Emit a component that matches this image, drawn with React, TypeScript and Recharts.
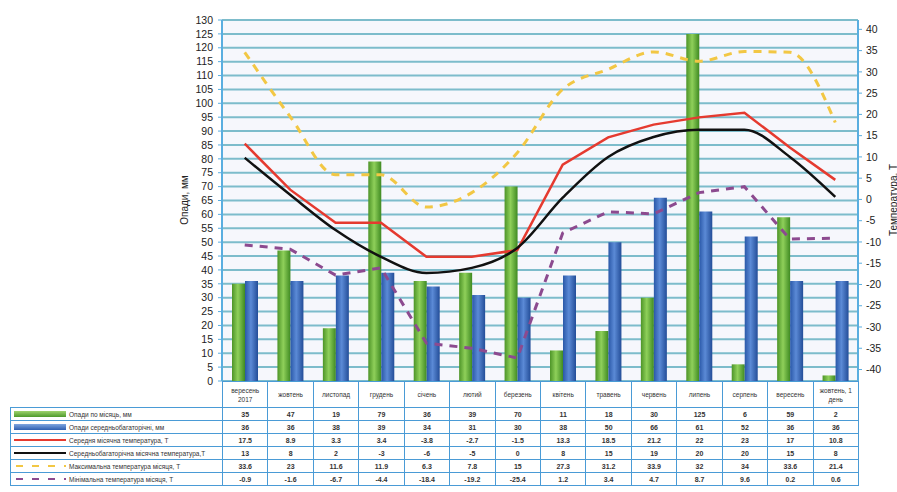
import React from 'react';
import { ComposedChart, Bar, Line, XAxis, YAxis, CartesianGrid } from 'recharts';

const months = [
  'вересень 2017', 'жовтень', 'листопад', 'грудень', 'січень', 'лютий', 'березень',
  'квітень', 'травень', 'червень', 'липень', 'серпень', 'вересень', 'жовтень, 1 день',
];

// precipitation, mm
const precip = [35, 47, 19, 79, 36, 39, 70, 11, 18, 30, 125, 6, 59, 2];
const precipNorm = [36, 36, 38, 39, 34, 31, 30, 38, 50, 66, 61, 52, 36, 36];

// temperature lines as they sit on the right axis of the picture
const avgTempLine = [13.1, 2.3, -5.5, -5.5, -13.5, -13.5, -11.9, 8.2, 14.6, 17.6, 19.3, 20.4, 12.2, 4.6];
const normTempLine = [9.8, 1.1, -7.2, -13.5, -17.3, -16.1, -11.4, 0.4, 10.0, 14.7, 16.4, 16.4, 10.0, 0.6];
const maxTempLine = [34.6, 19.5, 5.8, 5.8, -1.8, 1.6, 11.0, 25.9, 30.6, 34.7, 32.5, 34.8, 34.6, 18.1];
const minTempLine = [-10.7, -11.7, -17.8, -16.1, -33.8, -35.0, -37.3, -7.9, -2.9, -3.4, 1.6, 3.0, -9.3, -9.1];

// values printed in the data table
const avgTempTable = ['17.5', '8.9', '3.3', '3.4', '-3.8', '-2.7', '-1.5', '13.3', '18.5', '21.2', '22', '23', '17', '10.8'];
const normTempTable = ['13', '8', '2', '-3', '-6', '-5', '0', '8', '15', '19', '20', '20', '15', '8'];
const maxTempTable = ['33.6', '23', '11.6', '11.9', '6.3', '7.8', '15', '27.3', '31.2', '33.9', '32', '34', '33.6', '21.4'];
const minTempTable = ['-0.9', '-1.6', '-6.7', '-4.4', '-18.4', '-19.2', '-25.4', '1.2', '3.4', '4.7', '8.7', '9.6', '0.2', '0.6'];

const leftTicks = [0, 5, 10, 15, 20, 25, 30, 35, 40, 45, 50, 55, 60, 65, 70, 75, 80, 85, 90, 95, 100, 105, 110, 115, 120, 125, 130];
const rightTicks = [-40, -35, -30, -25, -20, -15, -10, -5, 0, 5, 10, 15, 20, 25, 30, 35, 40];

const data = months.map((m, i) => ({
  month: m,
  precip: precip[i],
  precipNorm: precipNorm[i],
  avg: avgTempLine[i],
  norm: normTempLine[i],
  max: maxTempLine[i],
  min: minTempLine[i],
}));

const PLOT_L = 222;
const PLOT_R = 858;
const TABLE_TOP = 381;
const HEAD_H = 26;
const ROW_H = 13;
const colW = (PLOT_R - PLOT_L) / months.length;
const FONT = '"Liberation Sans", Arial, sans-serif';
const BORDER = '#4a9bd6';

const rows = [
  { label: 'Опади по місяць, мм', key: 'bar', color: 'url(#gGreen)', values: precip.map(String) },
  { label: 'Опади середньобагаторічні, мм', key: 'bar', color: 'url(#gBlue)', values: precipNorm.map(String) },
  { label: 'Середня місячна температура, Т', key: 'line', color: '#e53a2f', values: avgTempTable },
  { label: 'Середньобагаторічна місячна температура,Т', key: 'line', color: '#111111', values: normTempTable },
  { label: 'Максимальна температура місяця, Т', key: 'dash', color: '#f2c744', values: maxTempTable },
  { label: 'Мінімальна температура місяця, Т', key: 'dash', color: '#8c4a8f', values: minTempTable },
];

function Swatch({ kind, color }: { kind: string; color: string }) {
  return (
    <svg width={52} height={8} style={{ position: 'absolute', left: 3, top: 2 }}>
      <defs>
        <linearGradient id="sgGreen" x1="0" y1="0" x2="0" y2="1">
          <stop offset="0" stopColor="#9fd36e" />
          <stop offset="1" stopColor="#4e9a2c" />
        </linearGradient>
        <linearGradient id="sgBlue" x1="0" y1="0" x2="0" y2="1">
          <stop offset="0" stopColor="#7fa6e0" />
          <stop offset="1" stopColor="#2f5fb0" />
        </linearGradient>
      </defs>
      {kind === 'bar' && (
        <rect x={0} y={1} width={52} height={6} fill={color === 'url(#gGreen)' ? 'url(#sgGreen)' : 'url(#sgBlue)'} />
      )}
      {kind === 'line' && <line x1={0} x2={52} y1={4} y2={4} stroke={color} strokeWidth={2} />}
      {kind === 'dash' && <line x1={2} x2={52} y1={4} y2={4} stroke={color} strokeWidth={2} strokeDasharray="7 9" />}
    </svg>
  );
}

function DataTable() {
  const cell: React.CSSProperties = {
    position: 'absolute',
    boxSizing: 'border-box',
    border: `1px solid ${BORDER}`,
    fontFamily: FONT,
    color: '#333',
    display: 'flex',
    alignItems: 'center',
    justifyContent: 'center',
    textAlign: 'center',
  };
  return (
    <div style={{ position: 'absolute', left: 0, top: TABLE_TOP, width: 897, height: 111 }}>
      {months.map((m, i) => (
        <div
          key={'h' + i}
          style={{ ...cell, left: PLOT_L + i * colW, top: 0, width: colW + 1, height: HEAD_H + 1, fontSize: 6.5, lineHeight: '9px', padding: '0 2px' }}
        >
          {m}
        </div>
      ))}
      {rows.map((r, ri) => (
        <React.Fragment key={'r' + ri}>
          <div
            style={{ ...cell, left: 10, top: HEAD_H + ri * ROW_H, width: PLOT_L - 10 + 1, height: ROW_H + 1, justifyContent: 'flex-start', fontSize: 6.5, paddingLeft: 58, whiteSpace: 'nowrap' }}
          >
            <Swatch kind={r.key} color={r.color} />
            {r.label}
          </div>
          {r.values.map((v, i) => (
            <div
              key={'c' + ri + '-' + i}
              style={{ ...cell, left: PLOT_L + i * colW, top: HEAD_H + ri * ROW_H, width: colW + 1, height: ROW_H + 1, fontSize: 7, fontWeight: 700 }}
            >
              {v}
            </div>
          ))}
        </React.Fragment>
      ))}
    </div>
  );
}

export default function App() {
  const tick = { fill: '#222', fontSize: 10.5, fontFamily: FONT };
  return (
    <div style={{ position: 'absolute', left: 0, top: 0, width: 897, height: 492, background: '#fff', overflow: 'hidden' }}>
      <ComposedChart
        width={897}
        height={392}
        data={data}
        margin={{ top: 20, right: 0, bottom: 11, left: 182 }}
        barGap={0}
        barSize={13}
      >
        <defs>
          <linearGradient id="gGreen" x1="0" y1="0" x2="1" y2="0">
            <stop offset="0" stopColor="#4d9428" />
            <stop offset="0.45" stopColor="#8fd05a" />
            <stop offset="1" stopColor="#3f8a22" />
          </linearGradient>
          <linearGradient id="gBlue" x1="0" y1="0" x2="1" y2="0">
            <stop offset="0" stopColor="#2a58a8" />
            <stop offset="0.45" stopColor="#5b8ad6" />
            <stop offset="1" stopColor="#234d98" />
          </linearGradient>
        </defs>
        <CartesianGrid yAxisId="left" vertical={false} stroke="#7dbccb" strokeWidth={2} fill="#f6f7fc" />
        <XAxis dataKey="month" hide />
        <YAxis
          yAxisId="left"
          width={40}
          domain={[0, 130]}
          ticks={leftTicks}
          interval={0}
          tick={tick}
          tickSize={4}
          tickMargin={5}
          axisLine={{ stroke: '#5aaee0', strokeWidth: 2 }}
          tickLine={{ stroke: '#5aaee0' }}
        />
        <YAxis
          yAxisId="right"
          orientation="right"
          width={39}
          domain={[-42.7, 42.2]}
          ticks={rightTicks}
          interval={0}
          tick={{ ...tick, textAnchor: 'start' }}
          tickSize={4}
          tickMargin={4}
          axisLine={{ stroke: '#5aaee0', strokeWidth: 2 }}
          tickLine={{ stroke: '#5aaee0' }}
        />
        <Bar yAxisId="left" dataKey="precip" fill="url(#gGreen)" isAnimationActive={false} />
        <Bar yAxisId="left" dataKey="precipNorm" fill="url(#gBlue)" isAnimationActive={false} />
        <Line yAxisId="right" type="monotone" dataKey="max" stroke="#f2c744" strokeWidth={3} strokeDasharray="8 7" dot={false} isAnimationActive={false} />
        <Line yAxisId="right" type="linear" dataKey="min" stroke="#8c4a8f" strokeWidth={3} strokeDasharray="8 7" dot={false} isAnimationActive={false} />
        <Line yAxisId="right" type="linear" dataKey="avg" stroke="#e53a2f" strokeWidth={2.5} dot={false} isAnimationActive={false} />
        <Line yAxisId="right" type="monotone" dataKey="norm" stroke="#111111" strokeWidth={2.5} dot={false} isAnimationActive={false} />
      </ComposedChart>
      <div
        style={{ position: 'absolute', left: 184, top: 200, transform: 'translate(-50%, -50%) rotate(-90deg)', fontFamily: FONT, fontSize: 10, color: '#222', whiteSpace: 'nowrap' }}
      >
        Опади, мм
      </div>
      <div
        style={{ position: 'absolute', left: 893, top: 200, transform: 'translate(-50%, -50%) rotate(-90deg)', fontFamily: FONT, fontSize: 10, color: '#222', whiteSpace: 'nowrap' }}
      >
        Температура, Т
      </div>
      <DataTable />
    </div>
  );
}
